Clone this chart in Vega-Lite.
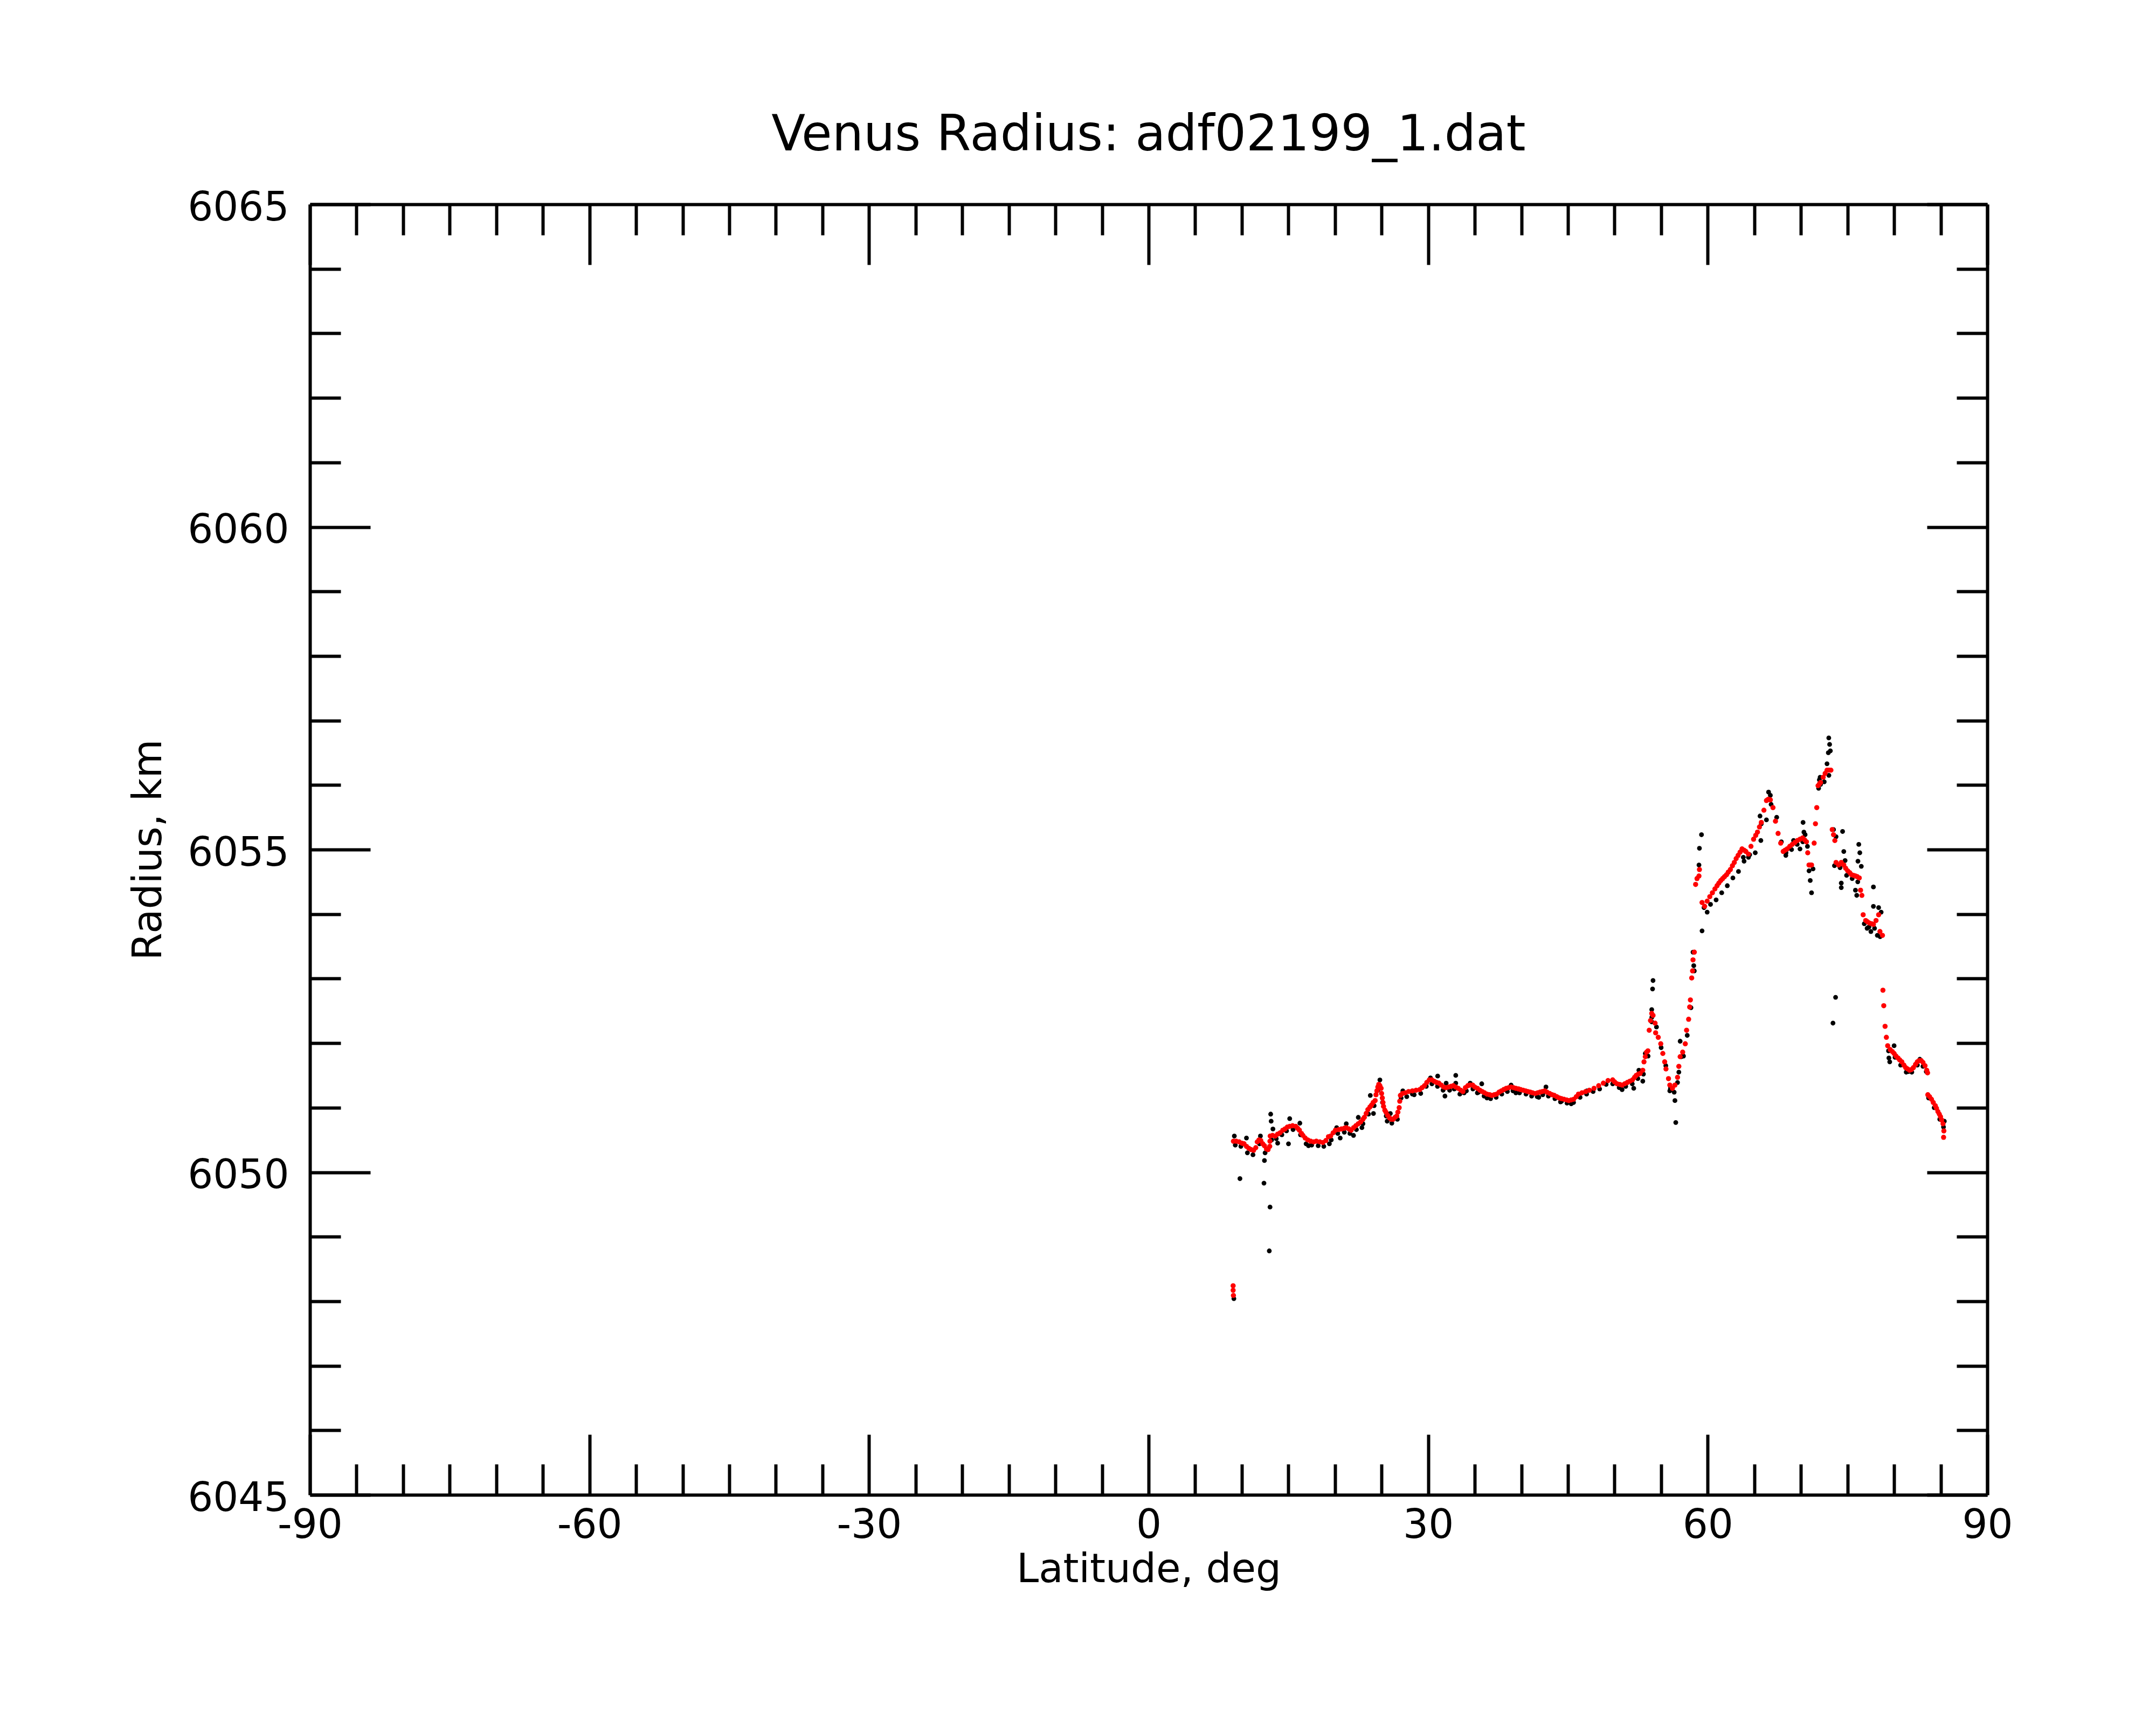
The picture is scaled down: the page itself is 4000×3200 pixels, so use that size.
{
  "$schema": "https://vega.github.io/schema/vega-lite/v6.json",
  "width": 3112,
  "height": 2394,
  "autosize": "none",
  "padding": {"left": 575, "top": 379, "right": 313, "bottom": 427},
  "background": "white",
  "title": {
    "text": "Venus Radius: adf02199_1.dat",
    "font": "DejaVu Sans",
    "fontSize": 92,
    "fontWeight": "normal",
    "color": "black",
    "anchor": "middle",
    "baseline": "alphabetic",
    "offset": -22
  },
  "config": {
    "view": {"stroke": null},
    "axis": {
      "domainColor": "black",
      "domainWidth": 6,
      "tickColor": "black",
      "tickWidth": 6,
      "grid": false,
      "labelFont": "DejaVu Sans",
      "labelFontSize": 74,
      "labelColor": "black",
      "labelFlush": false,
      "labelOverlap": false,
      "labelBound": false,
      "labelLimit": 1000,
      "titleFont": "DejaVu Sans",
      "titleFontSize": 74,
      "titleFontWeight": "normal",
      "titleColor": "black"
    }
  },
  "datasets": {
    "raw": [
      {"lat": 9.15, "r": 6048.04}, {"lat": 9.2, "r": 6050.56}, {"lat": 9.8, "r": 6049.9}, {"lat": 12.38, "r": 6049.83},
      {"lat": 12.43, "r": 6050.18}, {"lat": 13.03, "r": 6049.46}, {"lat": 12.95, "r": 6048.78}, {"lat": 13.1, "r": 6050.9},
      {"lat": 13.15, "r": 6050.79}, {"lat": 13.34, "r": 6050.67}, {"lat": 13.85, "r": 6050.45}, {"lat": 15.01, "r": 6050.44},
      {"lat": 15.14, "r": 6050.83}, {"lat": 16.23, "r": 6050.76}, {"lat": 12.0, "r": 6050.56}, {"lat": 10.5, "r": 6050.53},
      {"lat": 17.16, "r": 6050.41}, {"lat": 19.4, "r": 6050.44}, {"lat": 20.18, "r": 6050.69}, {"lat": 21.21, "r": 6050.75},
      {"lat": 20.56, "r": 6050.53}, {"lat": 21.99, "r": 6050.57}, {"lat": 22.5, "r": 6050.85}, {"lat": 22.89, "r": 6050.69},
      {"lat": 23.79, "r": 6051.19}, {"lat": 24.13, "r": 6050.91}, {"lat": 24.82, "r": 6051.43}, {"lat": 25.94, "r": 6050.91},
      {"lat": 25.6, "r": 6050.79}, {"lat": 27.28, "r": 6051.26}, {"lat": 28.31, "r": 6051.21}, {"lat": 30.25, "r": 6051.46},
      {"lat": 31.02, "r": 6051.49}, {"lat": 31.8, "r": 6051.18}, {"lat": 31.93, "r": 6051.38}, {"lat": 32.96, "r": 6051.5},
      {"lat": 32.96, "r": 6051.38}, {"lat": 33.86, "r": 6051.23}, {"lat": 34.51, "r": 6051.38}, {"lat": 35.28, "r": 6051.23},
      {"lat": 35.75, "r": 6051.37}, {"lat": 36.31, "r": 6051.15}, {"lat": 38.12, "r": 6051.28}, {"lat": 38.9, "r": 6051.35},
      {"lat": 39.41, "r": 6051.23}, {"lat": 41.87, "r": 6051.16}, {"lat": 42.64, "r": 6051.32}, {"lat": 44.32, "r": 6051.1},
      {"lat": 45.35, "r": 6051.06}, {"lat": 47.03, "r": 6051.26},
      {"lat": 50.81, "r": 6051.28}, {"lat": 52.06, "r": 6051.3}, {"lat": 52.61, "r": 6051.58}, {"lat": 53.03, "r": 6051.41},
      {"lat": 53.3, "r": 6051.84}, {"lat": 53.99, "r": 6052.52}, {"lat": 54.08, "r": 6052.84}, {"lat": 54.13, "r": 6052.97},
      {"lat": 53.99, "r": 6052.33}, {"lat": 55.93, "r": 6051.26}, {"lat": 56.48, "r": 6051.11}, {"lat": 56.57, "r": 6050.77},
      {"lat": 56.76, "r": 6051.39}, {"lat": 57.04, "r": 6052.03}, {"lat": 57.18, "r": 6051.79}, {"lat": 58.56, "r": 6053.12},
      {"lat": 58.42, "r": 6053.41}, {"lat": 59.06, "r": 6054.76}, {"lat": 59.11, "r": 6055.02}, {"lat": 59.33, "r": 6055.23},
      {"lat": 59.39, "r": 6053.74}, {"lat": 59.94, "r": 6054.03}, {"lat": 63.82, "r": 6054.88}, {"lat": 64.37, "r": 6054.88},
      {"lat": 65.61, "r": 6055.52}, {"lat": 65.75, "r": 6055.4}, {"lat": 66.53, "r": 6055.89}, {"lat": 66.72, "r": 6055.84},
      {"lat": 68.38, "r": 6054.91}, {"lat": 69.21, "r": 6055.14}, {"lat": 69.9, "r": 6055.01}, {"lat": 70.23, "r": 6055.42},
      {"lat": 70.32, "r": 6055.27}, {"lat": 70.45, "r": 6055.23}, {"lat": 70.87, "r": 6054.67}, {"lat": 71.0, "r": 6054.52},
      {"lat": 71.14, "r": 6054.33}, {"lat": 71.98, "r": 6056.08}, {"lat": 72.11, "r": 6056.01}, {"lat": 72.06, "r": 6056.12},
      {"lat": 72.8, "r": 6056.33}, {"lat": 72.94, "r": 6056.5}, {"lat": 73.16, "r": 6056.53}, {"lat": 73.08, "r": 6056.63},
      {"lat": 72.99, "r": 6056.73}, {"lat": 73.5, "r": 6055.31}, {"lat": 73.77, "r": 6055.2}, {"lat": 73.72, "r": 6052.71},
      {"lat": 73.44, "r": 6052.31}, {"lat": 74.33, "r": 6054.48}, {"lat": 74.33, "r": 6054.41}, {"lat": 74.47, "r": 6055.28},
      {"lat": 74.6, "r": 6054.97}, {"lat": 74.74, "r": 6054.83}, {"lat": 76.21, "r": 6055.08}, {"lat": 76.32, "r": 6054.95},
      {"lat": 76.12, "r": 6054.82}, {"lat": 76.48, "r": 6054.74}, {"lat": 75.85, "r": 6054.37}, {"lat": 75.99, "r": 6054.29},
      {"lat": 77.78, "r": 6054.42}, {"lat": 77.78, "r": 6054.12}, {"lat": 78.34, "r": 6054.1}, {"lat": 78.61, "r": 6054.03},
      {"lat": 77.1, "r": 6053.78}, {"lat": 77.51, "r": 6053.73}, {"lat": 78.2, "r": 6053.67}, {"lat": 80.0, "r": 6051.96},
      {"lat": 79.44, "r": 6051.77}, {"lat": 79.53, "r": 6051.71}, {"lat": 81.52, "r": 6051.56}, {"lat": 82.76, "r": 6051.75},
      {"lat": 83.45, "r": 6051.56}, {"lat": 85.39, "r": 6050.79},
      {"lat": 9.3, "r": 6050.42}, {"lat": 9.9, "r": 6050.4}, {"lat": 10.6, "r": 6050.3}, {"lat": 11.2, "r": 6050.27},
      {"lat": 11.9, "r": 6050.44}, {"lat": 12.5, "r": 6050.3}, {"lat": 13.2, "r": 6050.5}, {"lat": 13.7, "r": 6050.52},
      {"lat": 14.3, "r": 6050.58}, {"lat": 14.8, "r": 6050.64}, {"lat": 15.5, "r": 6050.66}, {"lat": 16.3, "r": 6050.58},
      {"lat": 16.9, "r": 6050.44}, {"lat": 17.5, "r": 6050.42}, {"lat": 18.2, "r": 6050.41}, {"lat": 18.8, "r": 6050.4},
      {"lat": 19.6, "r": 6050.5}, {"lat": 20.3, "r": 6050.6}, {"lat": 21.0, "r": 6050.62}, {"lat": 21.6, "r": 6050.6},
      {"lat": 22.3, "r": 6050.66}, {"lat": 23.0, "r": 6050.75}, {"lat": 23.6, "r": 6050.9}, {"lat": 24.2, "r": 6051.03},
      {"lat": 24.6, "r": 6051.27}, {"lat": 25.1, "r": 6051.08}, {"lat": 25.5, "r": 6050.87}, {"lat": 26.1, "r": 6050.76},
      {"lat": 26.7, "r": 6050.82}, {"lat": 27.1, "r": 6051.15}, {"lat": 27.7, "r": 6051.17}, {"lat": 28.5, "r": 6051.2},
      {"lat": 29.2, "r": 6051.22}, {"lat": 29.8, "r": 6051.33}, {"lat": 30.4, "r": 6051.37}, {"lat": 31.0, "r": 6051.33},
      {"lat": 31.6, "r": 6051.27}, {"lat": 32.3, "r": 6051.27}, {"lat": 32.8, "r": 6051.29}, {"lat": 33.4, "r": 6051.21},
      {"lat": 34.1, "r": 6051.26}, {"lat": 34.8, "r": 6051.29}, {"lat": 35.4, "r": 6051.24}, {"lat": 36.0, "r": 6051.18},
      {"lat": 36.7, "r": 6051.14}, {"lat": 37.3, "r": 6051.16}, {"lat": 37.9, "r": 6051.21}, {"lat": 38.5, "r": 6051.25},
      {"lat": 39.1, "r": 6051.26}, {"lat": 39.8, "r": 6051.23}, {"lat": 40.5, "r": 6051.21}, {"lat": 41.1, "r": 6051.18},
      {"lat": 41.7, "r": 6051.17}, {"lat": 42.3, "r": 6051.2}, {"lat": 42.9, "r": 6051.18}, {"lat": 43.6, "r": 6051.14},
      {"lat": 44.2, "r": 6051.09}, {"lat": 44.9, "r": 6051.07}, {"lat": 45.6, "r": 6051.08}, {"lat": 46.3, "r": 6051.16},
      {"lat": 47.0, "r": 6051.21}, {"lat": 47.7, "r": 6051.25}, {"lat": 48.4, "r": 6051.29}, {"lat": 49.1, "r": 6051.36},
      {"lat": 49.8, "r": 6051.37}, {"lat": 50.5, "r": 6051.31}, {"lat": 51.2, "r": 6051.33}, {"lat": 51.9, "r": 6051.37},
      {"lat": 52.5, "r": 6051.45}, {"lat": 53.1, "r": 6051.52}, {"lat": 53.6, "r": 6051.8}, {"lat": 54.0, "r": 6052.4},
      {"lat": 54.5, "r": 6052.25}, {"lat": 55.0, "r": 6051.93}, {"lat": 55.5, "r": 6051.65}, {"lat": 56.0, "r": 6051.3},
      {"lat": 56.4, "r": 6051.24}, {"lat": 56.9, "r": 6051.55}, {"lat": 57.4, "r": 6051.8}, {"lat": 57.8, "r": 6052.12},
      {"lat": 58.2, "r": 6052.55}, {"lat": 58.5, "r": 6053.2}, {"lat": 59.6, "r": 6054.1}, {"lat": 60.3, "r": 6054.15},
      {"lat": 60.9, "r": 6054.22}, {"lat": 61.5, "r": 6054.33}, {"lat": 62.1, "r": 6054.44}, {"lat": 62.7, "r": 6054.56},
      {"lat": 63.3, "r": 6054.66}, {"lat": 63.9, "r": 6054.82}, {"lat": 64.5, "r": 6054.92}, {"lat": 65.1, "r": 6054.95},
      {"lat": 65.7, "r": 6055.14}, {"lat": 66.3, "r": 6055.46}, {"lat": 66.8, "r": 6055.7}, {"lat": 67.4, "r": 6055.5},
      {"lat": 67.9, "r": 6055.12}, {"lat": 68.4, "r": 6054.95}, {"lat": 69.0, "r": 6055.0}, {"lat": 69.6, "r": 6055.08},
      {"lat": 70.2, "r": 6055.12}, {"lat": 70.7, "r": 6055.05}, {"lat": 71.3, "r": 6054.7}, {"lat": 71.9, "r": 6055.95},
      {"lat": 72.5, "r": 6056.05}, {"lat": 73.0, "r": 6056.15}, {"lat": 73.6, "r": 6054.75}, {"lat": 74.2, "r": 6054.72},
      {"lat": 74.9, "r": 6054.6}, {"lat": 75.5, "r": 6054.55}, {"lat": 76.1, "r": 6054.5}, {"lat": 76.8, "r": 6053.85},
      {"lat": 77.3, "r": 6053.8}, {"lat": 77.9, "r": 6053.78}, {"lat": 78.5, "r": 6053.65}, {"lat": 79.4, "r": 6051.88},
      {"lat": 80.1, "r": 6051.78}, {"lat": 80.7, "r": 6051.66}, {"lat": 81.3, "r": 6051.55}, {"lat": 81.9, "r": 6051.55},
      {"lat": 82.5, "r": 6051.66}, {"lat": 83.1, "r": 6051.64}, {"lat": 83.7, "r": 6051.15}, {"lat": 84.3, "r": 6051.0},
      {"lat": 84.9, "r": 6050.82}, {"lat": 85.3, "r": 6050.7}
    ],
    "smooth": [
      {"lat": 9.07, "r": 6048.24}, {"lat": 9.07, "r": 6048.17}, {"lat": 9.1, "r": 6048.09},
      {"lat": 9.1, "r": 6050.48}, {"lat": 9.4, "r": 6050.48}, {"lat": 9.72, "r": 6050.47}, {"lat": 10.0, "r": 6050.45},
      {"lat": 10.24, "r": 6050.44}, {"lat": 10.5, "r": 6050.4}, {"lat": 10.75, "r": 6050.37}, {"lat": 11.0, "r": 6050.35},
      {"lat": 11.27, "r": 6050.34}, {"lat": 11.5, "r": 6050.38}, {"lat": 11.66, "r": 6050.47}, {"lat": 11.85, "r": 6050.5},
      {"lat": 12.04, "r": 6050.49}, {"lat": 12.25, "r": 6050.44}, {"lat": 12.43, "r": 6050.41}, {"lat": 12.65, "r": 6050.36},
      {"lat": 12.82, "r": 6050.35}, {"lat": 13.0, "r": 6050.4}, {"lat": 13.02, "r": 6050.48}, {"lat": 13.05, "r": 6050.56},
      {"lat": 13.3, "r": 6050.57}, {"lat": 13.59, "r": 6050.56}, {"lat": 13.85, "r": 6050.59}, {"lat": 14.11, "r": 6050.61},
      {"lat": 14.4, "r": 6050.65}, {"lat": 14.63, "r": 6050.67}, {"lat": 14.9, "r": 6050.7}, {"lat": 15.14, "r": 6050.71},
      {"lat": 15.45, "r": 6050.72}, {"lat": 15.79, "r": 6050.71}, {"lat": 16.0, "r": 6050.68}, {"lat": 16.18, "r": 6050.65},
      {"lat": 16.4, "r": 6050.6}, {"lat": 16.56, "r": 6050.57}, {"lat": 16.8, "r": 6050.53}, {"lat": 17.08, "r": 6050.5},
      {"lat": 17.4, "r": 6050.48}, {"lat": 17.72, "r": 6050.47}, {"lat": 18.0, "r": 6050.48}, {"lat": 18.37, "r": 6050.47},
      {"lat": 18.7, "r": 6050.46}, {"lat": 19.02, "r": 6050.49}, {"lat": 19.3, "r": 6050.55}, {"lat": 19.53, "r": 6050.56},
      {"lat": 19.8, "r": 6050.61}, {"lat": 20.05, "r": 6050.65}, {"lat": 20.4, "r": 6050.66}, {"lat": 20.69, "r": 6050.67},
      {"lat": 21.0, "r": 6050.68}, {"lat": 21.21, "r": 6050.69}, {"lat": 21.5, "r": 6050.67}, {"lat": 21.73, "r": 6050.65},
      {"lat": 22.0, "r": 6050.69}, {"lat": 22.24, "r": 6050.72}, {"lat": 22.5, "r": 6050.75}, {"lat": 22.76, "r": 6050.78},
      {"lat": 23.0, "r": 6050.82}, {"lat": 23.15, "r": 6050.85}, {"lat": 23.35, "r": 6050.91}, {"lat": 23.53, "r": 6050.97},
      {"lat": 23.75, "r": 6051.01}, {"lat": 23.92, "r": 6051.04}, {"lat": 24.1, "r": 6051.08}, {"lat": 24.31, "r": 6051.11},
      {"lat": 24.4, "r": 6051.2}, {"lat": 24.5, "r": 6051.26}, {"lat": 24.6, "r": 6051.32}, {"lat": 24.7, "r": 6051.36},
      {"lat": 24.82, "r": 6051.34}, {"lat": 24.95, "r": 6051.3}, {"lat": 25.0, "r": 6051.22}, {"lat": 25.08, "r": 6051.15},
      {"lat": 25.15, "r": 6051.08}, {"lat": 25.21, "r": 6051.02}, {"lat": 25.35, "r": 6050.96}, {"lat": 25.47, "r": 6050.93},
      {"lat": 25.65, "r": 6050.88}, {"lat": 25.86, "r": 6050.84}, {"lat": 26.05, "r": 6050.82}, {"lat": 26.24, "r": 6050.82},
      {"lat": 26.45, "r": 6050.85}, {"lat": 26.63, "r": 6050.87}, {"lat": 26.75, "r": 6050.93}, {"lat": 26.89, "r": 6051.0},
      {"lat": 26.95, "r": 6051.1}, {"lat": 27.02, "r": 6051.19}, {"lat": 27.25, "r": 6051.22}, {"lat": 27.54, "r": 6051.23},
      {"lat": 27.9, "r": 6051.25}, {"lat": 28.31, "r": 6051.26}, {"lat": 28.7, "r": 6051.27}, {"lat": 29.09, "r": 6051.28},
      {"lat": 29.35, "r": 6051.31}, {"lat": 29.6, "r": 6051.34}, {"lat": 29.85, "r": 6051.39}, {"lat": 30.12, "r": 6051.43},
      {"lat": 30.4, "r": 6051.43}, {"lat": 30.63, "r": 6051.41}, {"lat": 30.9, "r": 6051.39}, {"lat": 31.15, "r": 6051.38},
      {"lat": 31.4, "r": 6051.35}, {"lat": 31.67, "r": 6051.32}, {"lat": 31.9, "r": 6051.31}, {"lat": 32.18, "r": 6051.32},
      {"lat": 32.45, "r": 6051.33}, {"lat": 32.7, "r": 6051.34}, {"lat": 32.95, "r": 6051.32}, {"lat": 33.22, "r": 6051.3},
      {"lat": 33.5, "r": 6051.27}, {"lat": 33.73, "r": 6051.25}, {"lat": 34.0, "r": 6051.31}, {"lat": 34.25, "r": 6051.34},
      {"lat": 34.5, "r": 6051.35}, {"lat": 34.77, "r": 6051.35}, {"lat": 35.0, "r": 6051.32}, {"lat": 35.28, "r": 6051.3},
      {"lat": 35.55, "r": 6051.27}, {"lat": 35.8, "r": 6051.25}, {"lat": 36.05, "r": 6051.23}, {"lat": 36.31, "r": 6051.21},
      {"lat": 36.6, "r": 6051.2}, {"lat": 36.83, "r": 6051.19}, {"lat": 37.1, "r": 6051.2}, {"lat": 37.35, "r": 6051.21},
      {"lat": 37.6, "r": 6051.24}, {"lat": 37.86, "r": 6051.26}, {"lat": 38.1, "r": 6051.28}, {"lat": 38.38, "r": 6051.3},
      {"lat": 38.65, "r": 6051.31}, {"lat": 38.9, "r": 6051.32}, {"lat": 39.15, "r": 6051.31}, {"lat": 39.41, "r": 6051.3},
      {"lat": 39.7, "r": 6051.29}, {"lat": 39.93, "r": 6051.28}, {"lat": 40.2, "r": 6051.27}, {"lat": 40.45, "r": 6051.26},
      {"lat": 40.7, "r": 6051.25}, {"lat": 40.96, "r": 6051.24}, {"lat": 41.2, "r": 6051.23}, {"lat": 41.48, "r": 6051.22},
      {"lat": 41.75, "r": 6051.23}, {"lat": 42.0, "r": 6051.24}, {"lat": 42.25, "r": 6051.25}, {"lat": 42.51, "r": 6051.26},
      {"lat": 42.75, "r": 6051.24}, {"lat": 43.03, "r": 6051.22}, {"lat": 43.3, "r": 6051.2}, {"lat": 43.54, "r": 6051.19},
      {"lat": 43.8, "r": 6051.17}, {"lat": 44.06, "r": 6051.15}, {"lat": 44.3, "r": 6051.14}, {"lat": 44.58, "r": 6051.13},
      {"lat": 44.85, "r": 6051.12}, {"lat": 45.09, "r": 6051.11}, {"lat": 45.35, "r": 6051.12}, {"lat": 45.61, "r": 6051.13},
      {"lat": 45.9, "r": 6051.17}, {"lat": 46.13, "r": 6051.21}, {"lat": 46.5, "r": 6051.23}, {"lat": 46.9, "r": 6051.25},
      {"lat": 47.3, "r": 6051.27}, {"lat": 47.8, "r": 6051.3}, {"lat": 48.3, "r": 6051.34}, {"lat": 48.8, "r": 6051.38},
      {"lat": 49.3, "r": 6051.42}, {"lat": 49.8, "r": 6051.43}, {"lat": 50.0, "r": 6051.4},
      {"lat": 50.26, "r": 6051.37}, {"lat": 50.55, "r": 6051.36}, {"lat": 50.81, "r": 6051.35}, {"lat": 51.1, "r": 6051.37},
      {"lat": 51.37, "r": 6051.39}, {"lat": 51.65, "r": 6051.41}, {"lat": 51.92, "r": 6051.43}, {"lat": 52.15, "r": 6051.47},
      {"lat": 52.33, "r": 6051.5}, {"lat": 52.55, "r": 6051.52}, {"lat": 52.75, "r": 6051.53}, {"lat": 53.03, "r": 6051.58},
      {"lat": 53.16, "r": 6051.71}, {"lat": 53.3, "r": 6051.79}, {"lat": 53.44, "r": 6051.86}, {"lat": 53.58, "r": 6051.88},
      {"lat": 53.72, "r": 6052.2}, {"lat": 53.86, "r": 6052.35}, {"lat": 53.99, "r": 6052.46}, {"lat": 54.13, "r": 6052.43},
      {"lat": 54.35, "r": 6052.31}, {"lat": 54.41, "r": 6052.16}, {"lat": 54.69, "r": 6052.09}, {"lat": 54.96, "r": 6051.99},
      {"lat": 55.18, "r": 6051.84}, {"lat": 55.38, "r": 6051.71}, {"lat": 55.52, "r": 6051.6}, {"lat": 55.79, "r": 6051.45},
      {"lat": 55.93, "r": 6051.35}, {"lat": 56.21, "r": 6051.3}, {"lat": 56.48, "r": 6051.35}, {"lat": 56.76, "r": 6051.47},
      {"lat": 56.9, "r": 6051.64}, {"lat": 57.04, "r": 6051.79}, {"lat": 57.31, "r": 6051.86}, {"lat": 57.59, "r": 6051.99},
      {"lat": 57.73, "r": 6052.2}, {"lat": 57.95, "r": 6052.37}, {"lat": 58.06, "r": 6052.56}, {"lat": 58.14, "r": 6052.67},
      {"lat": 58.28, "r": 6053.01}, {"lat": 58.37, "r": 6053.12}, {"lat": 58.42, "r": 6053.29}, {"lat": 58.56, "r": 6053.41},
      {"lat": 58.7, "r": 6054.46}, {"lat": 58.85, "r": 6054.55}, {"lat": 59.06, "r": 6054.59}, {"lat": 59.11, "r": 6054.69},
      {"lat": 59.39, "r": 6054.18}, {"lat": 59.67, "r": 6054.12}, {"lat": 59.94, "r": 6054.2}, {"lat": 60.22, "r": 6054.27},
      {"lat": 60.5, "r": 6054.33}, {"lat": 60.77, "r": 6054.39}, {"lat": 61.0, "r": 6054.44}, {"lat": 61.19, "r": 6054.48},
      {"lat": 61.4, "r": 6054.52}, {"lat": 61.6, "r": 6054.55}, {"lat": 61.8, "r": 6054.58}, {"lat": 62.02, "r": 6054.61},
      {"lat": 62.2, "r": 6054.65}, {"lat": 62.43, "r": 6054.69}, {"lat": 62.65, "r": 6054.75}, {"lat": 62.85, "r": 6054.8},
      {"lat": 63.05, "r": 6054.86}, {"lat": 63.26, "r": 6054.91}, {"lat": 63.47, "r": 6054.96}, {"lat": 63.68, "r": 6055.01},
      {"lat": 63.9, "r": 6054.99}, {"lat": 64.09, "r": 6054.97}, {"lat": 64.37, "r": 6054.93}, {"lat": 64.64, "r": 6055.05},
      {"lat": 64.92, "r": 6055.16}, {"lat": 65.15, "r": 6055.22}, {"lat": 65.34, "r": 6055.27}, {"lat": 65.55, "r": 6055.35},
      {"lat": 65.75, "r": 6055.42}, {"lat": 66.03, "r": 6055.61}, {"lat": 66.3, "r": 6055.76}, {"lat": 66.5, "r": 6055.78},
      {"lat": 66.72, "r": 6055.77}, {"lat": 67.0, "r": 6055.65}, {"lat": 67.27, "r": 6055.44}, {"lat": 67.55, "r": 6055.25},
      {"lat": 67.83, "r": 6055.1}, {"lat": 68.1, "r": 6054.97}, {"lat": 68.3, "r": 6054.99}, {"lat": 68.52, "r": 6055.01},
      {"lat": 68.8, "r": 6055.05}, {"lat": 69.07, "r": 6055.08}, {"lat": 69.35, "r": 6055.11}, {"lat": 69.62, "r": 6055.14},
      {"lat": 69.9, "r": 6055.16}, {"lat": 70.18, "r": 6055.18}, {"lat": 70.4, "r": 6055.15}, {"lat": 70.59, "r": 6055.12},
      {"lat": 70.73, "r": 6054.95}, {"lat": 70.87, "r": 6054.76}, {"lat": 71.0, "r": 6054.76}, {"lat": 71.14, "r": 6054.76},
      {"lat": 71.42, "r": 6055.1}, {"lat": 71.56, "r": 6055.4}, {"lat": 71.7, "r": 6055.65}, {"lat": 71.84, "r": 6055.99},
      {"lat": 72.0, "r": 6056.02}, {"lat": 72.11, "r": 6056.04}, {"lat": 72.39, "r": 6056.12}, {"lat": 72.6, "r": 6056.18},
      {"lat": 72.8, "r": 6056.23}, {"lat": 73.0, "r": 6056.23}, {"lat": 73.22, "r": 6056.23}, {"lat": 73.36, "r": 6055.31},
      {"lat": 73.5, "r": 6055.23}, {"lat": 73.64, "r": 6055.14}, {"lat": 73.77, "r": 6054.8}, {"lat": 74.05, "r": 6054.76},
      {"lat": 74.33, "r": 6054.8}, {"lat": 74.6, "r": 6054.76}, {"lat": 74.8, "r": 6054.71}, {"lat": 75.02, "r": 6054.67},
      {"lat": 75.25, "r": 6054.64}, {"lat": 75.43, "r": 6054.61}, {"lat": 75.65, "r": 6054.6}, {"lat": 75.85, "r": 6054.59},
      {"lat": 76.05, "r": 6054.58}, {"lat": 76.26, "r": 6054.56}, {"lat": 76.4, "r": 6054.37}, {"lat": 76.54, "r": 6054.29},
      {"lat": 76.68, "r": 6053.99}, {"lat": 76.95, "r": 6053.9}, {"lat": 77.15, "r": 6053.88}, {"lat": 77.37, "r": 6053.86},
      {"lat": 77.6, "r": 6053.85}, {"lat": 77.78, "r": 6053.84}, {"lat": 78.06, "r": 6053.9}, {"lat": 78.34, "r": 6053.99},
      {"lat": 78.48, "r": 6053.73}, {"lat": 78.75, "r": 6053.67}, {"lat": 78.8, "r": 6052.82}, {"lat": 78.89, "r": 6052.58},
      {"lat": 79.03, "r": 6052.26}, {"lat": 79.17, "r": 6052.09}, {"lat": 79.31, "r": 6051.96}, {"lat": 79.58, "r": 6051.9},
      {"lat": 79.8, "r": 6051.87}, {"lat": 80.0, "r": 6051.84}, {"lat": 80.2, "r": 6051.8}, {"lat": 80.41, "r": 6051.77},
      {"lat": 80.6, "r": 6051.74}, {"lat": 80.83, "r": 6051.71}, {"lat": 81.05, "r": 6051.66}, {"lat": 81.24, "r": 6051.62},
      {"lat": 81.45, "r": 6051.6}, {"lat": 81.66, "r": 6051.58}, {"lat": 81.85, "r": 6051.59}, {"lat": 82.07, "r": 6051.62},
      {"lat": 82.3, "r": 6051.67}, {"lat": 82.49, "r": 6051.71}, {"lat": 82.7, "r": 6051.73}, {"lat": 82.9, "r": 6051.73},
      {"lat": 83.1, "r": 6051.7}, {"lat": 83.32, "r": 6051.65}, {"lat": 83.5, "r": 6051.58}, {"lat": 83.59, "r": 6051.54},
      {"lat": 83.62, "r": 6051.2}, {"lat": 83.8, "r": 6051.17}, {"lat": 84.01, "r": 6051.13}, {"lat": 84.2, "r": 6051.08},
      {"lat": 84.42, "r": 6051.03}, {"lat": 84.55, "r": 6050.99}, {"lat": 84.7, "r": 6050.94}, {"lat": 84.85, "r": 6050.9},
      {"lat": 84.98, "r": 6050.86}, {"lat": 85.1, "r": 6050.81}, {"lat": 85.25, "r": 6050.75}, {"lat": 85.34, "r": 6050.64},
      {"lat": 85.31, "r": 6050.54}
    ]
  },
  "layer": [
    {
      "data": {"name": "raw"},
      "mark": {"type": "circle", "color": "black", "size": 78, "opacity": 1},
      "encoding": {
        "x": {
          "field": "lat",
          "type": "quantitative",
          "scale": {"domain": [-90, 90], "nice": false, "zero": false},
          "axis": {
            "orient": "bottom",
            "values": [-90, -85, -80, -75, -70, -65, -60, -55, -50, -45, -40, -35, -30, -25, -20, -15, -10, -5, 0, 5, 10, 15, 20, 25, 30, 35, 40, 45, 50, 55, 60, 65, 70, 75, 80, 85, 90],
            "tickSize": {"condition": {"test": "datum.value % 30 === 0", "value": -112}, "value": -57},
            "labelExpr": "datum.value % 30 === 0 ? '' + datum.value : ''",
            "labelPadding": 133,
            "title": "Latitude, deg",
            "titleY": 161,
            "titleBaseline": "alphabetic"
          }
        },
        "y": {
          "field": "r",
          "type": "quantitative",
          "scale": {"domain": [6045, 6065], "nice": false, "zero": false},
          "axis": {
            "orient": "left",
            "values": [6045, 6046, 6047, 6048, 6049, 6050, 6051, 6052, 6053, 6054, 6055, 6056, 6057, 6058, 6059, 6060, 6061, 6062, 6063, 6064, 6065],
            "tickSize": {"condition": {"test": "datum.value % 5 === 0", "value": -112}, "value": -57},
            "labelExpr": "datum.value % 5 === 0 ? '' + datum.value : ''",
            "labelPadding": 151,
            "labelOffset": 7,
            "title": "Radius, km",
            "titleX": -277,
            "titleBaseline": "alphabetic"
          }
        }
      }
    },
    {
      "data": {"name": "smooth"},
      "mark": {"type": "circle", "color": "red", "size": 90, "opacity": 1},
      "encoding": {
        "x": {
          "field": "lat",
          "type": "quantitative",
          "scale": {"domain": [-90, 90], "nice": false, "zero": false},
          "axis": {
            "orient": "top",
            "values": [-90, -85, -80, -75, -70, -65, -60, -55, -50, -45, -40, -35, -30, -25, -20, -15, -10, -5, 0, 5, 10, 15, 20, 25, 30, 35, 40, 45, 50, 55, 60, 65, 70, 75, 80, 85, 90],
            "tickSize": {"condition": {"test": "datum.value % 30 === 0", "value": -112}, "value": -57},
            "labels": false,
            "title": null
          }
        },
        "y": {
          "field": "r",
          "type": "quantitative",
          "scale": {"domain": [6045, 6065], "nice": false, "zero": false},
          "axis": {
            "orient": "right",
            "values": [6045, 6046, 6047, 6048, 6049, 6050, 6051, 6052, 6053, 6054, 6055, 6056, 6057, 6058, 6059, 6060, 6061, 6062, 6063, 6064, 6065],
            "tickSize": {"condition": {"test": "datum.value % 5 === 0", "value": -112}, "value": -57},
            "labels": false,
            "title": null
          }
        }
      }
    }
  ],
  "resolve": {"axis": {"x": "independent", "y": "independent"}}
}
